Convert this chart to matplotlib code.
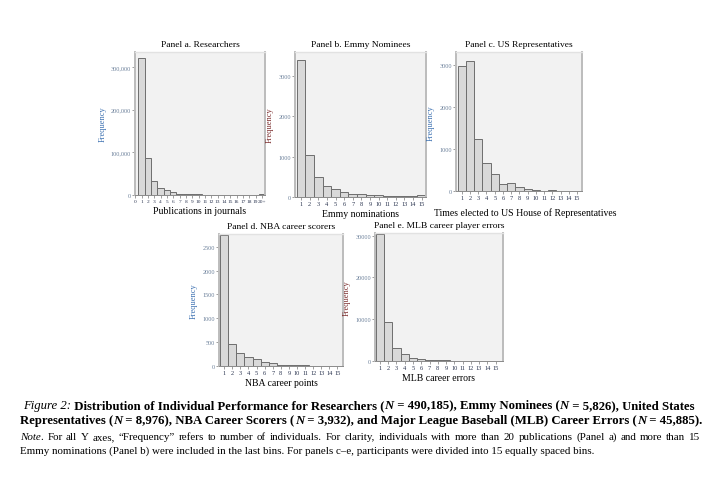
import numpy as np
import matplotlib.pyplot as plt
from matplotlib.text import Annotation
from matplotlib.ticker import FuncFormatter

plt.rcParams['font.family'] = ['Liberation Serif', 'DejaVu Serif']

# Panel a: publications in journals (0 .. 20+)
pub_labels = [str(i) for i in range(20)] + ['20+']
pub_counts = [0, 320000, 87000, 33000, 17000, 11000, 6000, 3500, 2500, 1800,
              1300, 1000, 800, 600, 500, 400, 300, 300, 200, 200, 2500]

# Panels b-e: 15 bins each
bins = [str(i) for i in range(1, 16)]
emmy_counts = [3400, 1040, 485, 260, 185, 125, 62, 60, 40, 30, 15, 10, 10, 8, 35]
rep_counts = [2980, 3100, 1240, 670, 410, 170, 195, 100, 65, 35, 10, 20, 8, 5, 5]
nba_counts = [2750, 449, 267, 176, 134, 71, 50, 25, 12, 8, 8, 2, 1, 1, 1]
mlb_counts = [30400, 9200, 3050, 1700, 720, 350, 200, 100, 50, 30, 20, 10, 5, 3, 2]

fig = plt.figure(figsize=(7.16, 4.81), dpi=100)


def panel(rect, labels, counts, title, xlabel, ylim, yticks, xlim,
          ylab_color, comma=False, xtick_size=4.6, xlabel_pad=2, xlabel_x=0.5):
    ax = fig.add_axes(rect)
    ax.set_facecolor('#f2f2f2')
    x = np.arange(len(counts))
    if labels[0] == '1':
        x = x + 1
    ax.bar(x, counts, width=1.0, color='#d9d9d9', edgecolor='#6e6e6e',
           linewidth=0.7)
    ax.set_xticks(x)
    ax.set_xticklabels(labels)
    ax.set_xlim(*xlim)
    ax.set_ylim(0, ylim)
    ax.set_yticks(yticks)
    if comma:
        ax.yaxis.set_major_formatter(FuncFormatter(lambda v, p: f'{int(v):,}'))
    ax.tick_params(axis='x', labelsize=xtick_size, length=2, width=0.5,
                   color='#777777', labelcolor='#2b3550', pad=1)
    ax.tick_params(axis='y', labelsize=4.4, length=2, width=0.5,
                   color='#777777', labelcolor='#6a7f99', pad=1)
    for side in ['left', 'right']:
        ax.spines[side].set_color('#bcbcbc')
        ax.spines[side].set_linewidth(1.4)
    ax.spines['top'].set_color('#e2e2e2')
    ax.spines['top'].set_linewidth(1.0)
    ax.spines['bottom'].set_color('#8a8a8a')
    ax.spines['bottom'].set_linewidth(0.7)
    ax.set_title(title, fontsize=6.8, pad=4)
    ax.set_xlabel(xlabel, fontsize=7.0, labelpad=xlabel_pad)
    ax.xaxis.label.set_x(xlabel_x)
    ax.set_ylabel('Frequency', fontsize=6, color=ylab_color, labelpad=3)
    return ax


W, H = 716, 481


def rect(l, r, t, b):
    return [l / W, 1 - b / H, (r - l) / W, (b - t) / H]


panel(rect(135, 265, 53, 196), pub_labels, pub_counts, 'Panel a. Researchers',
      'Publications in journals', 335000, [0, 100000, 200000, 300000],
      (-0.05, 20.5), '#3a6fb0', comma=True, xtick_size=3.9)
panel(rect(295, 426, 53, 197.7), bins, emmy_counts, 'Panel b. Emmy Nominees',
      'Emmy nominations', 3600, [0, 1000, 2000, 3000], (0.3, 15.5), '#7a2a2a')
panel(rect(456, 582, 53, 192.3), bins, rep_counts, 'Panel c. US Representatives',
      'Times elected to US House of Representatives', 3310,
      [0, 1000, 2000, 3000], (0.3, 15.6), '#3a6fb0', xlabel_pad=5,
      xlabel_x=0.55)
panel(rect(219, 343, 235, 366.7), bins, nba_counts, 'Panel d. NBA career scorers',
      'NBA career points', 2767, [0, 500, 1000, 1500, 2000, 2500],
      (0.35, 15.7), '#3a6fb0')
panel(rect(375, 503, 234, 361.7), bins, mlb_counts,
      'Panel e. MLB career player errors', 'MLB career errors', 30620,
      [0, 10000, 20000, 30000], (0.4, 15.9), '#7a2a2a')


def rich_line(x, y, parts, size):
    s, kw = parts[0]
    prev = fig.text(x, y, s, fontsize=size, va='baseline', ha='left', **kw)
    for s, kw in parts[1:]:
        a = Annotation(s, xy=(1, y), xycoords=(prev, 'figure fraction'),
                       va='baseline', ha='left', fontsize=size,
                       annotation_clip=False, **kw)
        fig.add_artist(a)
        prev = a


def justified_line(x0, x1, y, tokens, size):
    # tokens: (text, style, glued_to_previous)
    renderer = fig.canvas.get_renderer()
    texts = []
    for s, kw, glued in tokens:
        t = fig.text(0, y, s, fontsize=size, va='baseline', ha='left', **kw)
        texts.append((t, t.get_window_extent(renderer).width, glued))
    total = sum(w for _, w, _ in texts)
    ngaps = sum(1 for _, _, g in texts[1:] if not g)
    gap = (x1 - x0 - total) / ngaps
    x = x0
    for i, (t, w, glued) in enumerate(texts):
        if i > 0 and not glued:
            x += gap
        t.set_x(x / W)
        x += w


B = dict(fontweight='bold')
BI = dict(fontweight='bold', fontstyle='italic')
I = dict(fontstyle='italic')
R = dict()

rich_line(23 / W, 1 - 409 / H, [
    ('Figure 2:', I),
    (' Distribution of Individual Performance for Researchers (', B),
    ('N', BI), (' = 490,185), Emmy Nominees (', B),
    ('N', BI), (' = 5,826), United States', B)], 9.2)
rich_line(20 / W, 1 - 424 / H, [
    ('Representatives (', B), ('N', BI), (' = 8,976), NBA Career Scorers (', B),
    ('N', BI), (' = 3,932), and Major League Baseball (MLB) Career Errors (', B),
    ('N', BI), (' = 45,885).', B)], 9.2)

note1 = ('For all Y axes, \u201cFrequency\u201d refers to number of individuals. '
         'For clarity, individuals with more than 20 publications (Panel a) '
         'and more than 15')
tokens = [('Note', I, False), ('.', R, True)]
tokens += [(w, R, False) for w in note1.split()]
justified_line(20, 700, 1 - 440 / H, tokens, 7.9)

rich_line(20 / W, 1 - 454 / H, [
    ('Emmy nominations (Panel b) were included in the last bins. '
     'For panels c\u2013e, participants were divided into 15 equally spaced bins.', R)],
    7.9)

fig.savefig('out.png', dpi=100)
